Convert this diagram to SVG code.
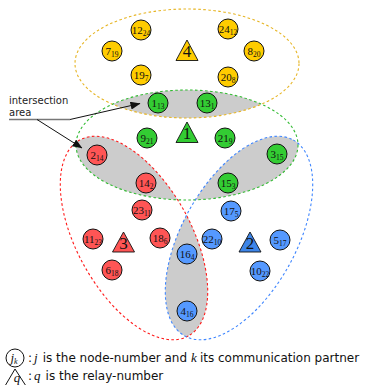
<svg xmlns="http://www.w3.org/2000/svg" width="368" height="385" viewBox="0 0 368 385">
  <style>
    .set { fill: none; stroke-width: 1.1; stroke-dasharray: 2.6 2.4; }
    .lens { fill: #cccccc; stroke: none; }
    .node circle { stroke: #111; stroke-width: 1; }
    .node text { font-family: "Liberation Serif", "DejaVu Serif", serif; font-size: 11px; text-anchor: middle; fill: #111; }
    .node tspan { font-size: 7.5px; }
    .relay polygon { stroke: #111; stroke-width: 0.9; stroke-linejoin: miter; }
    .relay text { font-family: "Liberation Serif", "DejaVu Serif", serif; font-size: 17px; text-anchor: middle; fill: #111; }
    .y circle, .y polygon { fill: #ffcc00; }
    .g circle, .g polygon { fill: #33cc33; }
    .r circle, .r polygon { fill: #ff5555; }
    .b circle { fill: #5599ff; }
    .b polygon { fill: #3d85e8; }
    .label { font-family: "DejaVu Sans", sans-serif; font-size: 10px; fill: #222; }
    .legend { font-family: "DejaVu Sans", sans-serif; font-size: 12px; fill: #111; }
    .math { font-family: "Liberation Serif", "DejaVu Serif", serif; font-style: italic; font-size: 13px; fill: #111; }
    .arrow { stroke: #111; stroke-width: 1; fill: none; marker-end: url(#head); }
  </style>
  <defs>
    <marker id="head" viewBox="0 0 10 8" refX="9.5" refY="4" markerWidth="10" markerHeight="8" markerUnits="userSpaceOnUse" orient="auto">
      <path d="M0,0 L10,4 L0,8 Z" fill="#111"/>
    </marker>
    <ellipse id="eYellow" cx="187" cy="63.5" rx="112" ry="54.5"/>
    <ellipse id="eGreen" cx="187" cy="145" rx="111" ry="55"/>
    <ellipse id="eRed" cx="134" cy="238" rx="112" ry="57" transform="rotate(61 134 238)"/>
    <ellipse id="eBlue" cx="239" cy="238" rx="112" ry="57" transform="rotate(-61 239 238)"/>
    <clipPath id="clipYellow"><use href="#eYellow"/></clipPath>
    <clipPath id="clipGreen"><use href="#eGreen"/></clipPath>
    <clipPath id="clipRed"><use href="#eRed"/></clipPath>
  </defs>

  <!-- shaded overlaps of the four sets -->
  <g id="intersections" class="lens">
    <g clip-path="url(#clipYellow)"><use href="#eGreen"/></g>
    <g clip-path="url(#clipGreen)"><use href="#eRed"/></g>
    <g clip-path="url(#clipGreen)"><use href="#eBlue"/></g>
    <g clip-path="url(#clipRed)"><use href="#eBlue"/></g>
  </g>

  <!-- set boundaries -->
  <g id="sets" class="set">
    <use id="set-4" href="#eYellow" stroke="#e6b422"/>
    <use id="set-1" href="#eGreen" stroke="#33bb33"/>
    <use id="set-3" href="#eRed" stroke="#ff1a1a"/>
    <use id="set-2" href="#eBlue" stroke="#3f86ff"/>
  </g>

  <!-- relays -->
  <g id="relay-4" class="relay y"><polygon points="187,40 198,60.5 176,60.5"/><text x="187" y="57">4</text></g>
  <g id="relay-1" class="relay g"><polygon points="187,122 198,142.5 176,142.5"/><text x="187" y="139">1</text></g>
  <g id="relay-3" class="relay r"><polygon points="123.5,232 134.5,252 112.5,252"/><text x="123.5" y="248.5">3</text></g>
  <g id="relay-2" class="relay b"><polygon points="250,232 261,252 239,252"/><text x="250" y="248.5">2</text></g>

  <!-- yellow nodes -->
  <g id="n12" class="node y"><circle cx="141" cy="30" r="10"/><text x="141" y="33.5">12<tspan dy="2.5">24</tspan></text></g>
  <g id="n24" class="node y"><circle cx="228" cy="29" r="10"/><text x="228" y="32.5">24<tspan dy="2.5">12</tspan></text></g>
  <g id="n7" class="node y"><circle cx="112" cy="51" r="10"/><text x="112" y="54.5">7<tspan dy="2.5">19</tspan></text></g>
  <g id="n8" class="node y"><circle cx="254" cy="51" r="10"/><text x="254" y="54.5">8<tspan dy="2.5">20</tspan></text></g>
  <g id="n19" class="node y"><circle cx="141" cy="75" r="10"/><text x="141" y="78.5">19<tspan dy="2.5">7</tspan></text></g>
  <g id="n20" class="node y"><circle cx="228" cy="77" r="10"/><text x="228" y="80.5">20<tspan dy="2.5">8</tspan></text></g>

  <!-- green nodes -->
  <g id="n1" class="node g"><circle cx="158" cy="103" r="10"/><text x="158" y="106.5">1<tspan dy="2.5">13</tspan></text></g>
  <g id="n13" class="node g"><circle cx="207" cy="103" r="10"/><text x="207" y="106.5">13<tspan dy="2.5">1</tspan></text></g>
  <g id="n9" class="node g"><circle cx="147" cy="138" r="10"/><text x="147" y="141.5">9<tspan dy="2.5">21</tspan></text></g>
  <g id="n21" class="node g"><circle cx="225" cy="138" r="10"/><text x="225" y="141.5">21<tspan dy="2.5">9</tspan></text></g>
  <g id="n3" class="node g"><circle cx="277" cy="154" r="10"/><text x="277" y="157.5">3<tspan dy="2.5">15</tspan></text></g>
  <g id="n15" class="node g"><circle cx="228" cy="183" r="10"/><text x="228" y="186.5">15<tspan dy="2.5">3</tspan></text></g>

  <!-- red nodes -->
  <g id="n2" class="node r"><circle cx="97" cy="155" r="10"/><text x="97" y="158.5">2<tspan dy="2.5">14</tspan></text></g>
  <g id="n14" class="node r"><circle cx="146" cy="183" r="10"/><text x="146" y="186.5">14<tspan dy="2.5">2</tspan></text></g>
  <g id="n23" class="node r"><circle cx="142" cy="210" r="10"/><text x="142" y="213.5">23<tspan dy="2.5">11</tspan></text></g>
  <g id="n11" class="node r"><circle cx="93" cy="239" r="10"/><text x="93" y="242.5">11<tspan dy="2.5">23</tspan></text></g>
  <g id="n18" class="node r"><circle cx="160" cy="238" r="10"/><text x="160" y="241.5">18<tspan dy="2.5">6</tspan></text></g>
  <g id="n6" class="node r"><circle cx="112" cy="270" r="10"/><text x="112" y="273.5">6<tspan dy="2.5">18</tspan></text></g>

  <!-- blue nodes -->
  <g id="n17" class="node b"><circle cx="231" cy="211" r="10"/><text x="231" y="214.5">17<tspan dy="2.5">5</tspan></text></g>
  <g id="n22" class="node b"><circle cx="212" cy="239" r="10"/><text x="212" y="242.5">22<tspan dy="2.5">10</tspan></text></g>
  <g id="n5" class="node b"><circle cx="280" cy="240" r="10"/><text x="280" y="243.5">5<tspan dy="2.5">17</tspan></text></g>
  <g id="n10" class="node b"><circle cx="260" cy="271" r="10"/><text x="260" y="274.5">10<tspan dy="2.5">22</tspan></text></g>
  <g id="n16" class="node b"><circle cx="187" cy="254" r="10"/><text x="187" y="257.5">16<tspan dy="2.5">4</tspan></text></g>
  <g id="n4" class="node b"><circle cx="187" cy="311" r="10"/><text x="187" y="314.5">4<tspan dy="2.5">16</tspan></text></g>

  <!-- annotation -->
  <g id="annotation">
    <text class="label" x="9" y="103.5">intersection</text>
    <text class="label" x="9" y="116">area</text>
  </g>
  <g id="connectors">
    <line x1="9" y1="119.5" x2="70" y2="119.5" stroke="#777" stroke-width="1.3"/>
    <line class="arrow" x1="70" y1="119.5" x2="140" y2="103.5"/>
    <line class="arrow" x1="37" y1="119.5" x2="82" y2="148"/>
  </g>

  <!-- legend -->
  <g id="legend">
    <circle cx="15" cy="358" r="9" fill="#fff" stroke="#111" stroke-width="1"/>
    <text class="math" x="14" y="361.5" text-anchor="middle" font-size="12">j<tspan font-size="8" dy="2">k</tspan></text>
    <text class="legend" x="28" y="362">:<tspan class="math" dx="2">j</tspan><tspan dx="5">is the node-number and</tspan><tspan class="math" dx="4">k</tspan><tspan dx="3">its communication partner</tspan></text>
    <polyline points="5,386 15,369 26,386" fill="none" stroke="#111" stroke-width="1"/>
    <text class="math" x="17" y="382" text-anchor="middle" font-size="12">q</text>
    <text class="legend" x="28" y="380">:<tspan class="math" dx="2">q</tspan><tspan dx="5">is the relay-number</tspan></text>
  </g>
</svg>
